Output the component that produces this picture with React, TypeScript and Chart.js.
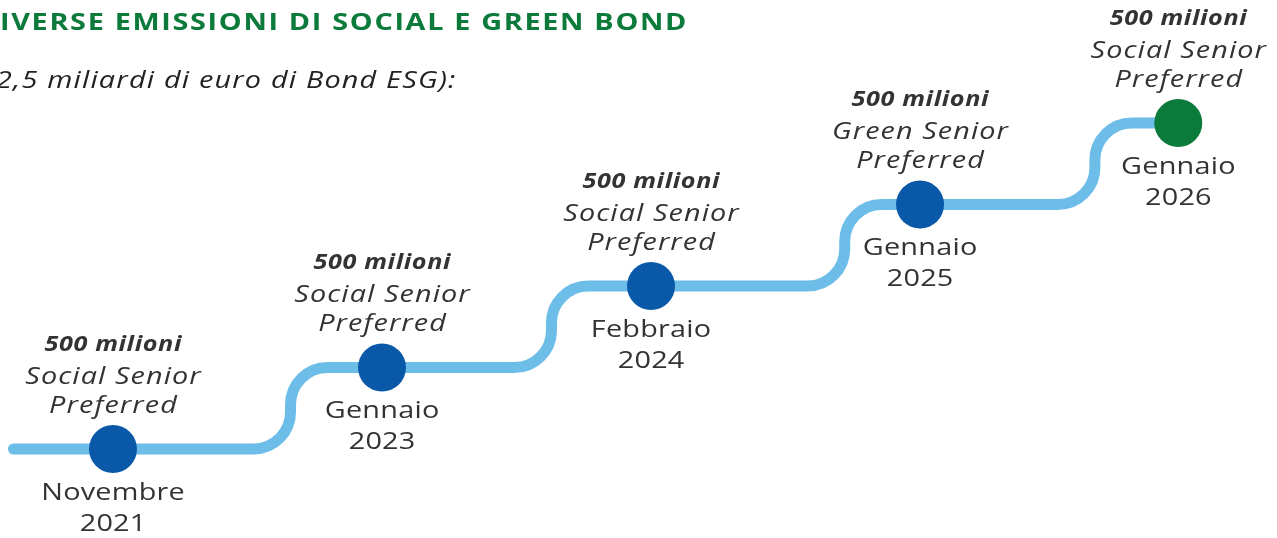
import React, { useEffect, useRef } from 'react';
import { Chart, registerables } from 'chart.js';

Chart.register(...registerables);

// ---- Data ----
const titleText = 'IVERSE EMISSIONI DI SOCIAL E GREEN BOND';
const subtitleText = '2,5 miliardi di euro di Bond ESG):';
const amounts = ['500 milioni', '500 milioni', '500 milioni', '500 milioni', '500 milioni'];
const bondTypes = ['Social Senior', 'Social Senior', 'Social Senior', 'Green Senior', 'Social Senior'];
const bondRanks = ['Preferred', 'Preferred', 'Preferred', 'Preferred', 'Preferred'];
const months = ['Novembre', 'Gennaio', 'Febbraio', 'Gennaio', 'Gennaio'];
const years = ['2021', '2023', '2024', '2025', '2026'];
const positions = [0, 1, 2, 3, 3.96];
const levels = [0, 1, 2, 3, 4];
const stepAt = [0.66, 1.63, 2.72, 3.65];
const lineStart = -0.37;

// ---- Styles ----
const LINE_COLOR = '#6dbde9';
const BLUE = '#0a59a8';
const GREEN = '#0b7a3b';
const TEXT = '#333333';
const FONT = '"Open Sans", "Noto Sans", sans-serif';
const STRETCH = 1.2;

const pathPoints = (() => {
  const pts: { x: number; y: number }[] = [{ x: lineStart, y: levels[0] }];
  for (let i = 0; i < stepAt.length; i++) {
    pts.push({ x: stepAt[i], y: levels[i] });
    pts.push({ x: stepAt[i], y: levels[i + 1] });
  }
  pts.push({ x: positions[positions.length - 1], y: levels[levels.length - 1] });
  return pts;
})();

const dotPoints = positions.map((x, i) => ({ x, y: levels[i] }));
const dotColors = positions.map((_, i) => (i === positions.length - 1 ? GREEN : BLUE));

const roundedPathPlugin = {
  id: 'roundedPath',
  beforeDatasetsDraw(chart: any) {
    const meta = chart.getDatasetMeta(0);
    const els = meta.data;
    if (!els || els.length < 2) return;
    const ctx = chart.ctx;
    ctx.save();
    ctx.strokeStyle = LINE_COLOR;
    ctx.lineWidth = 11;
    ctx.lineCap = 'round';
    ctx.lineJoin = 'round';
    ctx.beginPath();
    ctx.moveTo(els[0].x, els[0].y);
    for (let i = 1; i < els.length - 1; i++) {
      const p = els[i];
      const n = els[i + 1];
      const prev = els[i - 1];
      const d1 = Math.hypot(p.x - prev.x, p.y - prev.y);
      const d2 = Math.hypot(n.x - p.x, n.y - p.y);
      const r = Math.min(37, d1 / 2, d2 / 2);
      ctx.arcTo(p.x, p.y, n.x, n.y, r);
    }
    const last = els[els.length - 1];
    ctx.lineTo(last.x, last.y);
    ctx.stroke();
    ctx.restore();
  },
};

// Draw text stretched horizontally (wide geometric look) with optional spacing
function wideText(ctx: any, text: string, x: number, y: number, spacing: number, align: string) {
  ctx.save();
  ctx.letterSpacing = `${spacing}px`;
  ctx.textAlign = align;
  ctx.translate(x, y);
  ctx.scale(STRETCH, 1);
  ctx.fillText(text, align === 'center' ? spacing / 2 : 0, 0);
  ctx.restore();
}

const labelsPlugin = {
  id: 'labels',
  afterDatasetsDraw(chart: any) {
    const ctx = chart.ctx;
    const meta = chart.getDatasetMeta(1);
    ctx.save();
    ctx.textBaseline = 'alphabetic';
    ctx.fillStyle = TEXT;
    meta.data.forEach((el: any, i: number) => {
      const x = el.x;
      const y = el.y;
      ctx.font = `italic 700 21px ${FONT}`;
      wideText(ctx, amounts[i], x, y - 98, 0.5, 'center');
      ctx.font = `italic 400 24px ${FONT}`;
      wideText(ctx, bondTypes[i], x, y - 65, 0.9, 'center');
      wideText(ctx, bondRanks[i], x, y - 36, 0.9, 'center');
      ctx.font = `400 24px ${FONT}`;
      wideText(ctx, months[i], x, y + 51, 0.2, 'center');
      wideText(ctx, years[i], x, y + 82, 0.2, 'center');
    });
    // Title and subtitle
    ctx.fillStyle = GREEN;
    ctx.font = `700 24px ${FONT}`;
    wideText(ctx, titleText, 0, 30, 1.4, 'left');
    ctx.fillStyle = '#222222';
    ctx.font = `italic 400 24px ${FONT}`;
    wideText(ctx, subtitleText, -4, 88, 1.0, 'left');
    ctx.restore();
  },
};

export default function App() {
  const canvasRef = useRef<HTMLCanvasElement | null>(null);

  useEffect(() => {
    document.body.style.margin = '0';
    const canvas = canvasRef.current;
    if (!canvas) return;
    const chart = new Chart(canvas, {
      type: 'line',
      data: {
        datasets: [
          {
            data: pathPoints,
            showLine: false,
            pointRadius: 0,
            pointHoverRadius: 0,
            borderWidth: 0,
          },
          {
            data: dotPoints,
            showLine: false,
            pointRadius: 24,
            pointHoverRadius: 24,
            pointBackgroundColor: dotColors,
            pointBorderWidth: 0,
            borderWidth: 0,
          },
        ],
      },
      options: {
        animation: false,
        responsive: true,
        maintainAspectRatio: false,
        events: [],
        layout: { padding: 0, autoPadding: false },
        plugins: {
          legend: { display: false },
          tooltip: { enabled: false },
          title: { display: false },
        },
        scales: {
          x: { type: 'linear', display: false, min: -0.42, max: 4.327 },
          y: { type: 'linear', display: false, min: -1.092, max: 5.509 },
        },
      },
      plugins: [roundedPathPlugin, labelsPlugin],
    });
    return () => chart.destroy();
  }, []);

  return (
    <div style={{ position: 'relative', width: '1277px', height: '538px' }}>
      <canvas ref={canvasRef} />
    </div>
  );
}
